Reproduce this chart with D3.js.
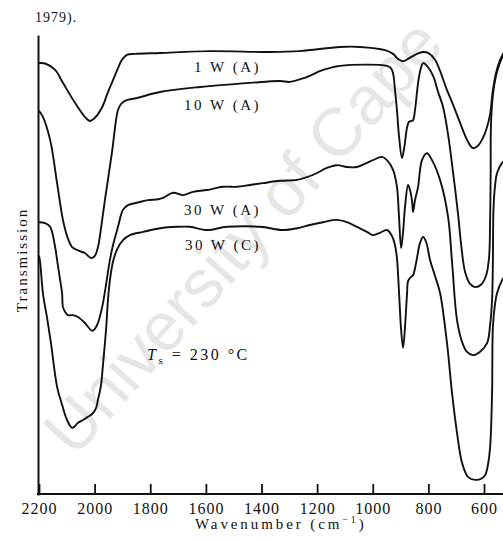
<!DOCTYPE html>
<html><head><meta charset="utf-8">
<script src="https://cdn.jsdelivr.net/npm/d3@7"></script>
<style>
html,body{margin:0;padding:0;background:#fff;}
svg{display:block;}
text{font-family:"Liberation Serif","Times New Roman",serif;fill:#111;}
</style></head>
<body><svg id="c" width="503" height="542"></svg>
<script>
// ---- data (wavenumber cm^-1, transmission arbitrary %) ----
const xTicks = [2200, 2000, 1800, 1600, 1400, 1200, 1000, 800, 600];
const seriesNames = ["1 W (A)", "10 W (A)", "30 W (A)", "30 W (C)"];

const wn1 = [2200,2178,2142,2114,2070,2035,2017,1999,1973,1952,1934,1916,1902,1884,1855,1765,1585,1369,1262,1118,1046,956,927,909,891,873,848,819,801,776,733,711,686,661,640,622,604,589,578,568,557,542,528];
const tr1 = [93.9,93.8,92.4,89.6,85.2,82.2,81.3,82.0,84.3,87.6,90.2,92.8,94.6,95.7,95.9,96.1,96.5,96.3,96.5,97.4,97.4,96.7,95.9,94.8,94.3,94.8,95.7,96.3,96.1,94.6,88.0,84.8,80.9,77.2,75.4,75.9,77.6,80.0,82.8,88.0,91.7,94.6,96.3];

const wn2 = [2200,2186,2160,2135,2114,2099,2081,2053,2035,2013,1999,1988,1977,1963,1938,1916,1905,1891,1848,1765,1621,1441,1333,1298,1244,1179,1118,949,935,927,920,913,906,895,887,877,870,862,855,848,837,827,819,805,783,765,747,729,711,693,682,668,650,632,611,593,582,578,576,575,568,557,542,528];
const tr2 = [83.5,82.2,77.2,67.8,59.8,56.3,53.9,53.0,52.6,51.5,52.0,53.9,58.0,64.1,74.3,83.7,85.0,85.7,86.3,87.6,88.7,89.6,90.0,89.8,90.7,92.4,93.3,93.3,92.8,91.7,88.0,83.7,78.3,73.3,75.4,79.8,81.1,81.3,81.5,83.7,89.6,92.8,93.9,93.3,91.1,87.6,84.3,78.3,70.0,60.9,54.3,48.5,45.9,45.2,45.7,47.6,51.5,59.8,70.7,80.4,87.0,91.1,94.1,95.9];

const wn3 = [2200,2178,2160,2142,2135,2124,2117,2114,2106,2096,2078,2060,2035,2009,1999,1988,1977,1970,1959,1945,1934,1916,1898,1880,1837,1808,1772,1754,1718,1682,1646,1596,1538,1488,1441,1395,1333,1272,1236,1200,1165,1129,1093,1057,1021,999,967,949,927,913,906,898,891,884,873,866,859,855,848,837,823,805,787,758,729,715,697,679,661,640,615,589,578,571,568,566,560,553,535,525];
const tr3 = [59.3,59.1,58.3,53.9,51.1,46.7,43.9,40.9,39.8,39.1,39.1,38.7,37.4,35.7,36.1,37.4,39.8,41.7,45.7,51.1,54.3,58.3,62.0,63.0,63.7,64.1,64.3,64.6,65.7,65.2,65.9,66.3,67.0,67.0,67.4,67.8,68.3,68.5,69.1,70.0,71.1,71.7,71.3,71.3,72.2,72.8,73.5,72.8,70.7,67.0,60.9,53.7,57.2,62.6,67.4,66.3,64.1,61.5,64.1,67.0,72.8,74.3,72.8,68.5,60.4,50.7,38.0,33.3,31.1,30.4,31.1,33.0,37.0,42.4,51.1,62.0,67.4,70.0,72.2,72.8];

const wn4 = [2200,2196,2186,2171,2157,2135,2117,2099,2081,2070,2060,2042,2024,2009,1995,1988,1977,1970,1959,1952,1945,1934,1920,1898,1873,1826,1765,1704,1657,1596,1524,1405,1323,1272,1226,1179,1129,1093,1057,1021,999,974,949,931,920,913,906,898,891,884,877,873,866,855,848,841,830,819,808,794,776,758,733,715,697,679,657,632,611,596,586,578,571,568,560,553,535,525];
const tr4 = [52.0,50.7,43.9,38.5,33.0,23.5,19.6,16.3,14.6,15.0,15.7,16.3,17.0,17.6,18.9,20.7,23.9,28.3,35.9,42.4,46.7,50.7,53.3,55.4,56.5,57.2,58.0,58.3,58.3,57.6,58.3,58.3,57.6,58.0,58.7,59.3,59.8,59.3,58.3,57.2,56.5,57.0,57.6,56.3,54.3,51.5,44.6,35.9,32.0,36.5,43.5,46.5,47.2,47.8,49.3,51.5,54.8,56.1,55.0,51.1,47.6,43.9,33.0,22.2,13.5,7.0,3.9,3.3,3.5,4.3,6.5,10.4,22.2,36.5,41.7,43.9,46.7,47.6];

// ---- chart ----
const W = 503, H = 542;
const svg = d3.select("#c");
const x = d3.scaleLinear().domain([2200, 600]).range([39, 484]);
const y = d3.scaleLinear().domain([0, 100]).range([495, 35]);

// faint scan watermark, kept inside the page
const ang = -48;
const wm = svg.append("text")
  .style("font-family", "'Liberation Sans',Arial,sans-serif")
  .style("font-size", "68px")
  .style("fill", "#e6e6e6")
  .text("University of Cape");
const L = wm.node().getComputedTextLength();
const rad = ang * Math.PI / 180;
const endX = 446, endY = 46;
const sx = endX - L * Math.cos(rad), sy = endY - L * Math.sin(rad);
wm.attr("transform", `translate(${sx},${sy}) rotate(${ang})`);

// y axis (no ticks)
svg.append("g").attr("transform", `translate(${x(2200) - 1},0)`)
  .call(d3.axisLeft(y).tickValues([]).tickSizeOuter(0))
  .call(g => g.select(".domain").attr("stroke", "#111").attr("stroke-width", 2));

// x axis
const xAxis = svg.append("g").attr("transform", `translate(0,${y(0) - 1})`)
  .call(d3.axisBottom(x).tickValues(xTicks).tickFormat(d3.format("d"))
        .tickSizeInner(-10).tickSizeOuter(0).tickPadding(9));
xAxis.select(".domain").remove();
xAxis.append("line").attr("x1", x(2200) - 2).attr("x2", W)
  .attr("stroke", "#111").attr("stroke-width", 2);
xAxis.selectAll(".tick line").attr("stroke", "#111").attr("stroke-width", 1.8);
xAxis.selectAll(".tick text")
  .style("font-family", "'Liberation Serif',serif")
  .style("font-size", "16px").style("letter-spacing", "1px").attr("fill", "#111");

// curves
const line = d3.line().x(d => x(d[0])).y(d => y(d[1])).curve(d3.curveCatmullRom.alpha(0.5));
const series = [[wn1, tr1], [wn2, tr2], [wn3, tr3], [wn4, tr4]];
svg.append("g").selectAll("path").data(series).join("path")
  .attr("d", s => line(s[0].map((w, i) => [w, s[1][i]])))
  .attr("fill", "none").attr("stroke", "#111").attr("stroke-width", 1.9)
  .attr("stroke-linejoin", "round");

// series labels
const labelY = [72, 110, 215, 250];
svg.append("g").selectAll("text").data(seriesNames).join("text")
  .attr("x", 261).attr("y", (d, i) => labelY[i])
  .attr("text-anchor", "end")
  .style("font-size", "15px").style("letter-spacing", "2.5px")
  .text(d => d);

// substrate temperature note
const note = svg.append("text").attr("x", 147).attr("y", 360)
  .style("font-size", "16px").style("letter-spacing", "2.5px");
note.append("tspan").style("font-style", "italic").text("T");
note.append("tspan").attr("dy", 4).style("font-size", "11px").text("s");
note.append("tspan").attr("dy", -4).text(" = 230 °C");

// caption fragment at top
svg.append("text").attr("x", 35).attr("y", 22)
  .style("font-size", "14px").style("letter-spacing", "1px").text("1979).");

// axis titles
svg.append("text").attr("transform", "translate(27,260) rotate(-90)")
  .attr("text-anchor", "middle")
  .style("font-size", "15px").style("letter-spacing", "2px").text("Transmission");

const xt = svg.append("text").attr("x", 195).attr("y", 529)
  .style("font-size", "15px").style("letter-spacing", "2.9px");
xt.append("tspan").text("Wavenumber (cm");
xt.append("tspan").attr("dy", -6).style("font-size", "10px").text("−1");
xt.append("tspan").attr("dy", 6).text(")");
</script></body></html>
